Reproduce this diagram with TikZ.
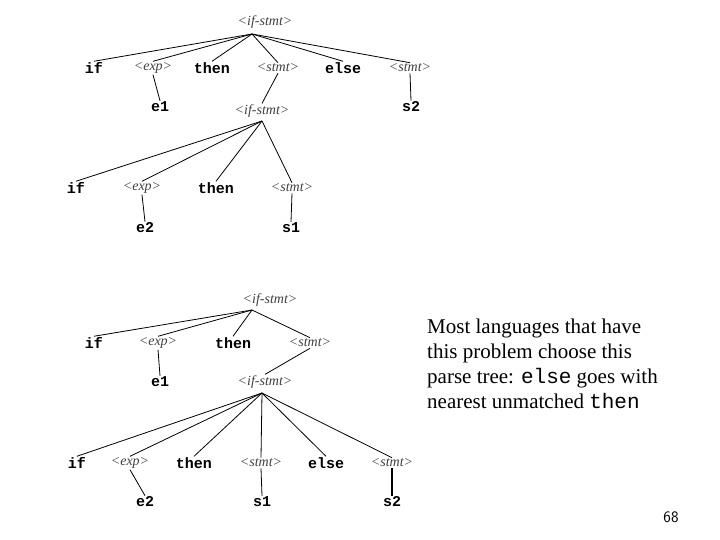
\documentclass[tikz,border=0pt]{standalone}
\usepackage{fontspec}
\setmainfont{Liberation Serif}
\setmonofont{Liberation Mono}
\begin{document}
\begin{tikzpicture}[x=1pt,y=-1pt,
  kw/.style={font=\ttfamily\bfseries\fontsize{15}{15}\selectfont,inner sep=1pt},
  nt/.style={font=\itshape\fontsize{14}{14}\selectfont,text=black!75,inner sep=1pt},
  ln/.style={line width=0.8pt}]
\useasboundingbox (0,0) rectangle (720,540);
% tree 1
\node[nt] (r1) at (265,22) {<if-stmt>};
\node[kw] (a1) at (94,68) {if};
\node[nt] (a2) at (153,68) {<exp>};
\node[kw] (a3) at (212,68) {then};
\node[nt] (a4) at (278,68) {<stmt>};
\node[kw] (a5) at (343,68) {else};
\node[nt] (a6) at (410,68) {<stmt>};
\node[kw] (e1) at (160,107) {e1};
\node[kw] (s2) at (411,107) {s2};
\node[nt] (r2) at (262,111) {<if-stmt>};
\node[kw] (b1) at (76,188) {if};
\node[nt] (b2) at (142,188) {<exp>};
\node[kw] (b3) at (216,188) {then};
\node[nt] (b4) at (292,188) {<stmt>};
\node[kw] (e2) at (145,228) {e2};
\node[kw] (s1) at (291,228) {s1};
\coordinate (p1) at (252,34);
\coordinate (p2) at (262,121);
\foreach \c in {a1,a2,a3,a4,a5,a6} \draw[ln] (p1) -- (\c.north);
\foreach \c in {b1,b2,b3,b4} \draw[ln] (p2) -- (\c.north);
\draw[ln] (a2.south) -- (e1.north);
\draw[ln] (a6.south) -- (s2.north);
\draw[ln] (a4.south) -- (r2.north);
\draw[ln] (b2.south) -- (e2.north);
\draw[ln] (b4.south) -- (s1.north);
% tree 2
\node[nt] (t1) at (270,300) {<if-stmt>};
\node[kw] (c1) at (94,343) {if};
\node[nt] (c2) at (158,343) {<exp>};
\node[kw] (c3) at (233,343) {then};
\node[nt] (c4) at (310,343) {<stmt>};
\node[kw] (f1) at (160,382) {e1};
\node[nt] (t2) at (265,382) {<if-stmt>};
\node[kw] (d1) at (77,463) {if};
\node[nt] (d2) at (130,463) {<exp>};
\node[kw] (d3) at (194,463) {then};
\node[nt] (d4) at (261,463) {<stmt>};
\node[kw] (d5) at (326,463) {else};
\node[nt] (d6) at (392,463) {<stmt>};
\node[kw] (f2) at (145,502) {e2};
\node[kw] (f3) at (262,502) {s1};
\node[kw] (f4) at (392,502) {s2};
\coordinate (q1) at (252,310);
\coordinate (q2) at (262,393);
\foreach \c in {c1,c2,c3,c4} \draw[ln] (q1) -- (\c.north);
\foreach \c in {d1,d2,d3,d4,d5,d6} \draw[ln] (q2) -- (\c.north);
\draw[ln] (c2.south) -- (f1.north);
\draw[ln] (c4.south) -- (t2.north);
\draw[ln] (d2.south) -- (f2.north);
\draw[ln] (d4.south) -- (f3.north);
\draw[line width=1.5pt] (d6.south) -- (f4.north);
% text
\node[anchor=north west,align=left,font=\fontsize{21}{25}\selectfont,inner sep=0pt] (txt) at (427,319)
 {Most languages that have\\this problem choose this\\parse tree: \texttt{else} goes with\\nearest unmatched \texttt{then}};
\node[font=\sffamily\fontsize{16}{16}\selectfont] (pg) at (671,517) {68};
\end{tikzpicture}
\end{document}
